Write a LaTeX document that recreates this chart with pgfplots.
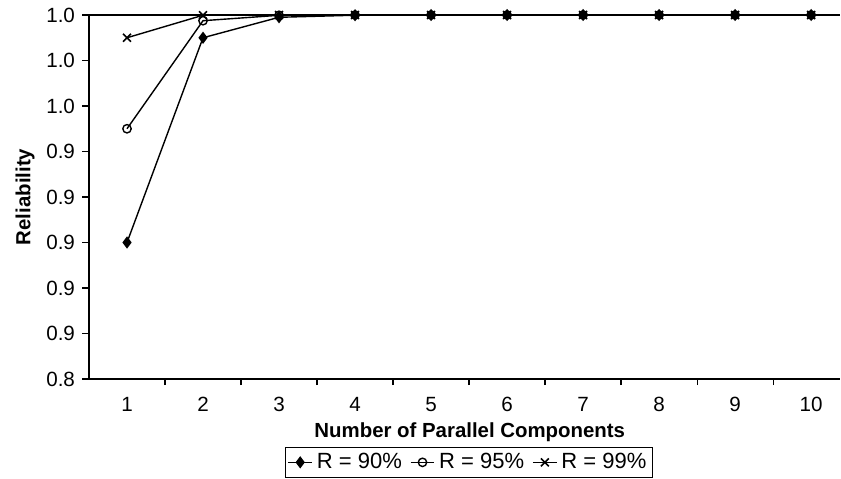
\documentclass[border=0pt]{standalone}
\usepackage{pgfplots}
\pgfplotsset{compat=1.18}
\usepackage{fontspec}
\setmainfont{Liberation Sans}

\begin{document}
\begin{tikzpicture}
\begin{axis}[
    scale only axis,
    width=375.5pt, height=182pt,
    xmin=0.5, xmax=10.38,
    ymin=0.84, ymax=1.0,
    axis x line*=bottom, axis y line*=left,
    axis line style={black, line width=0.6pt},
    xtick={1,2,3,4,5,6,7,8,9,10},
    major x tick style={draw=none},
    minor xtick={1.5,2.5,3.5,4.5,5.5,6.5,7.5,8.5,9.5},
    minor x tick style={draw=black, line width=0.6pt},
    minor tick length=3pt,
    ytick={0.84,0.86,0.88,0.90,0.92,0.94,0.96,0.98,1.0},
    yticklabels={0.8,0.9,0.9,0.9,0.9,0.9,1.0,1.0,1.0},
    major y tick style={black, line width=0.6pt},
    tick align=outside,
    major tick length=3.5pt,
    tick label style={font=\fontsize{10.3}{12}\selectfont,
        /pgf/number format/assume math mode=true},
    xticklabel style={yshift=-2pt},
    xlabel={\textbf{Number of Parallel Components}},
    xlabel style={font=\fontsize{10.2}{12}\selectfont, at={(axis description cs:0.507,-0.146)}, anchor=center},
    ylabel={\textbf{Reliability}},
    ylabel style={font=\fontsize{10.2}{12}\selectfont, at={(axis description cs:-0.085,0.5)}, anchor=center},
    legend columns=3,
    legend style={at={(0.506,-0.229)}, anchor=center, draw=black, line width=0.5pt,
        font=\fontsize{11}{12}\selectfont, inner sep=1pt,
        /tikz/every even column/.append style={column sep=2pt}},
    legend image code/.code={
        \draw[#1] (0cm,0cm) -- (0.42cm,0cm);
        \draw[#1, only marks] plot coordinates {(0.21cm,0cm)};
    },
    clip=false,
]
\draw[black, line width=0.6pt] (rel axis cs:0,1) -- (rel axis cs:1,1);
\coordinate (sw) at (rel axis cs:0,0);
\coordinate (ne) at (rel axis cs:1,1);

\addplot[black, line width=0.7pt, mark=diamond*, mark size=2.5pt, mark options={solid, fill=black}]
    coordinates {(1,0.90) (2,0.99) (3,0.999) (4,0.9999) (5,0.99999) (6,1.0) (7,1.0) (8,1.0) (9,1.0) (10,1.0)};
\addlegendentry{R = 90\%}

\addplot[black, line width=0.7pt, mark=o, mark size=2.1pt, mark options={solid, fill=white}]
    coordinates {(1,0.95) (2,0.9975) (3,0.999875) (4,0.99999) (5,1.0) (6,1.0) (7,1.0) (8,1.0) (9,1.0) (10,1.0)};
\addlegendentry{R = 95\%}

\addplot[black, line width=0.7pt, mark=x, mark size=2.8pt, mark options={solid, line width=0.8pt}]
    coordinates {(1,0.99) (2,0.9999) (3,0.999999) (4,1.0) (5,1.0) (6,1.0) (7,1.0) (8,1.0) (9,1.0) (10,1.0)};
\addlegendentry{R = 99\%}

\end{axis}
\pgfresetboundingbox
\path[use as bounding box] ([xshift=-44.5pt,yshift=-49.5pt]sw) rectangle ([xshift=0.5pt,yshift=7.5pt]ne);
\end{tikzpicture}
\end{document}
